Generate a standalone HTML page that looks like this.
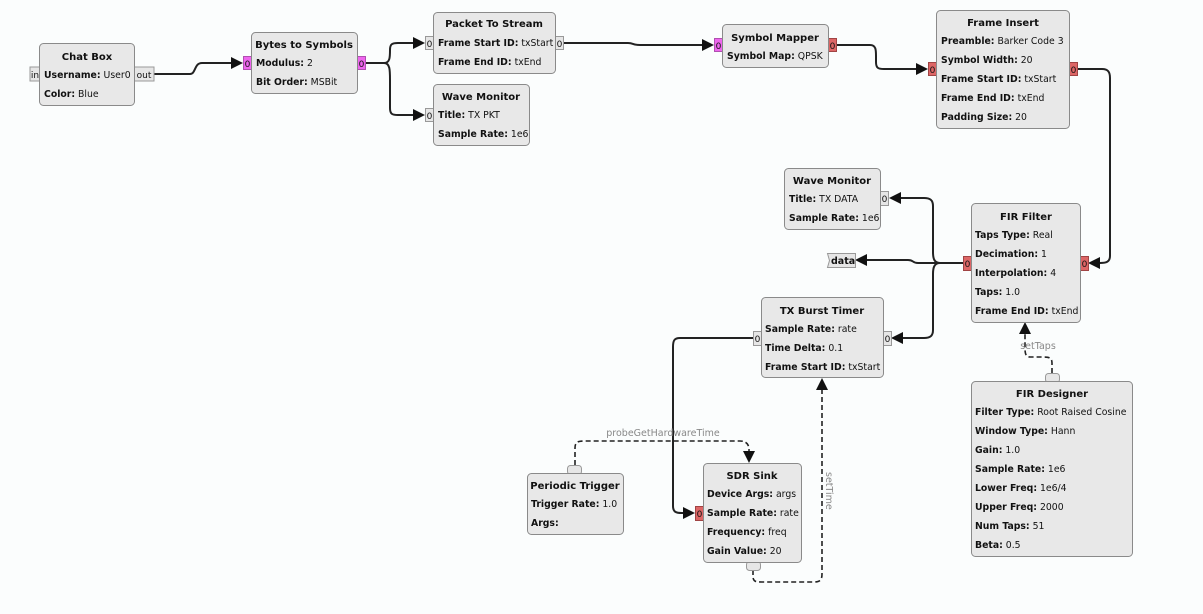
<!DOCTYPE html>
<html><head><meta charset="utf-8"><style>
html,body{margin:0;padding:0;background:#fbfdfd;}
svg{display:block;font-family:"DejaVu Sans","Liberation Sans",sans-serif;}
.b{fill:#e8e8e8;stroke:#8a8a8a;stroke-width:1;}
.t{font-size:10px;font-weight:bold;text-anchor:middle;fill:#111;}
.r{font-size:9.3px;fill:#111;}
.r tspan.k{font-weight:bold;}
.pg{fill:#e6e6e6;stroke:#999;}
.pm{fill:#ee66ee;stroke:#b050b0;}
.pr{fill:#dd6666;stroke:#a04444;}
.pt{font-size:9px;fill:#111;text-anchor:middle;}
.w{fill:none;stroke:#222;stroke-width:2;}
.d{fill:none;stroke:#222;stroke-width:1.6;stroke-dasharray:5,3;}
.lab{font-size:9.5px;fill:#888;}
</style></head><body>
<svg width="1203" height="614" viewBox="0 0 1203 614" xmlns="http://www.w3.org/2000/svg">
<rect width="1203" height="614" fill="#fbfdfd"/>
<path class="w" d="M154,74 H190 C196,74 194,63 202,63 H236"/>
<path class="w" d="M365,63 H384 C390,63 390,57 390,50 C390,44 392,43 398,43 H418"/>
<path class="w" d="M384,63 C390,63 390,70 390,80 V108 C390,114 392,115 398,115 H418"/>
<path class="w" d="M563,43 H628 C634,43 632,45 640,45 H707"/>
<path class="w" d="M836,45 H870 C876,45 876,50 876,56 V62 C876,68 878,69 884,69 H921"/>
<path class="w" d="M1077,69 H1102 C1108,69 1110,72 1110,78 V256 C1110,262 1106,263 1100,263 H1095"/>
<path class="w" d="M963,263 H918 C912,263 914,260 908,260 H866"/>
<path class="w" d="M963,263 H940 C934,263 933,258 933,252 V206 C933,200 930,198 924,198 H900"/>
<path class="w" d="M940,263 C934,263 933,268 933,274 V330 C933,336 930,338 924,338 H902"/>
<path class="w" d="M753,338 H680 C674,338 673,341 673,347 V506 C673,512 676,513 682,513 H688"/>
<path class="d" d="M575,465 V448 C575,442 578,441 584,441 H740 C746,441 749,444 749,450 V452"/>
<path class="d" d="M753,570 V576 C753,582 756,582 762,582 H814 C820,582 822,580 822,574 V390"/>
<path class="d" d="M1052,373 V363 C1052,357 1048,357 1042,357 H1030 C1026,357 1025,354 1025,348 V334"/>
<g fill="#111">
<polygon points="243,63 231,57 231,69"/>
<polygon points="425,43 413,37 413,49"/>
<polygon points="425,115 413,109 413,121"/>
<polygon points="714,45 702,39 702,51"/>
<polygon points="928,69 916,63 916,75"/>
<polygon points="1088,263 1100,257 1100,269"/>
<polygon points="855,260 867,254 867,266"/>
<polygon points="889,198 901,192 901,204"/>
<polygon points="891,338 903,332 903,344"/>
<polygon points="695,513 683,507 683,519"/>
<polygon points="749,463 743,451 755,451"/>
<polygon points="822,378 816,390 828,390"/>
<polygon points="1025,322 1019,334 1031,334"/>
</g>
<text class="lab" x="663" y="436" text-anchor="middle">probeGetHardwareTime</text>
<text class="lab" x="1038" y="349" text-anchor="middle">setTaps</text>
<text class="lab" transform="translate(826,472) rotate(90)">setTime</text>

<rect class="pg" x="30" y="67" width="10" height="14"/><text class="pt" x="35" y="78">in</text>
<rect class="pg" x="134" y="67" width="20" height="14"/><text class="pt" x="144" y="78">out</text>
<rect class="b" x="39.5" y="43.5" width="95" height="62" rx="4"/>
<text class="t" x="87" y="60">Chat Box</text>
<text class="r" x="44" y="78"><tspan class="k">Username:</tspan> User0</text>
<text class="r" x="44" y="97"><tspan class="k">Color:</tspan> Blue</text>

<rect class="pm" x="243.5" y="56.5" width="8" height="13"/><text class="pt" x="247.5" y="67">0</text>
<rect class="pm" x="357.5" y="56.5" width="8" height="13"/><text class="pt" x="361.5" y="67">0</text>
<rect class="b" x="251.5" y="32.5" width="106" height="61" rx="4"/>
<text class="t" x="304" y="48">Bytes to Symbols</text>
<text class="r" x="256" y="66"><tspan class="k">Modulus:</tspan> 2</text>
<text class="r" x="256" y="85"><tspan class="k">Bit Order:</tspan> MSBit</text>

<rect class="pg" x="425.5" y="36.5" width="8" height="13"/><text class="pt" x="429.5" y="47">0</text>
<rect class="pg" x="555.5" y="36.5" width="8" height="13"/><text class="pt" x="559.5" y="47">0</text>
<rect class="b" x="433.5" y="12.5" width="122" height="61" rx="4"/>
<text class="t" x="494" y="27">Packet To Stream</text>
<text class="r" x="438" y="46"><tspan class="k">Frame Start ID:</tspan> txStart</text>
<text class="r" x="438" y="65"><tspan class="k">Frame End ID:</tspan> txEnd</text>

<rect class="pg" x="425.5" y="108.5" width="8" height="13"/><text class="pt" x="429.5" y="119">0</text>
<rect class="b" x="433.5" y="84.5" width="96" height="61" rx="4"/>
<text class="t" x="481" y="100">Wave Monitor</text>
<text class="r" x="438" y="118"><tspan class="k">Title:</tspan> TX PKT</text>
<text class="r" x="438" y="137"><tspan class="k">Sample Rate:</tspan> 1e6</text>

<rect class="pm" x="714.5" y="38.5" width="8" height="13"/><text class="pt" x="718.5" y="49">0</text>
<rect class="pr" x="828.5" y="38.5" width="8" height="13"/><text class="pt" x="832.5" y="49">0</text>
<rect class="b" x="722.5" y="24.5" width="106" height="43" rx="4"/>
<text class="t" x="775" y="41">Symbol Mapper</text>
<text class="r" x="727" y="59"><tspan class="k">Symbol Map:</tspan> QPSK</text>

<rect class="pr" x="928.5" y="62.5" width="8" height="13"/><text class="pt" x="932.5" y="73">0</text>
<rect class="pr" x="1069.5" y="62.5" width="8" height="13"/><text class="pt" x="1073.5" y="73">0</text>
<rect class="b" x="936.5" y="10.5" width="133" height="118" rx="4"/>
<text class="t" x="1003" y="26">Frame Insert</text>
<text class="r" x="941" y="44"><tspan class="k">Preamble:</tspan> Barker Code 3</text>
<text class="r" x="941" y="63"><tspan class="k">Symbol Width:</tspan> 20</text>
<text class="r" x="941" y="82"><tspan class="k">Frame Start ID:</tspan> txStart</text>
<text class="r" x="941" y="101"><tspan class="k">Frame End ID:</tspan> txEnd</text>
<text class="r" x="941" y="120"><tspan class="k">Padding Size:</tspan> 20</text>

<rect class="pg" x="880.5" y="191.5" width="8" height="14"/><text class="pt" x="884.5" y="202">0</text>
<rect class="b" x="784.5" y="168.5" width="96" height="61" rx="4"/>
<text class="t" x="832" y="184">Wave Monitor</text>
<text class="r" x="789" y="202"><tspan class="k">Title:</tspan> TX DATA</text>
<text class="r" x="789" y="221"><tspan class="k">Sample Rate:</tspan> 1e6</text>

<polygon points="827.5,253.5 855.5,253.5 855.5,267.5 827.5,267.5 829.5,260.5" fill="#e6e6e6" stroke="#999"/>
<text x="831" y="264" style="font-size:9.5px;font-weight:bold;fill:#111">data</text>

<rect class="pr" x="963.5" y="256.5" width="8" height="14"/><text class="pt" x="967.5" y="267">0</text>
<rect class="pr" x="1080.5" y="256.5" width="8" height="14"/><text class="pt" x="1084.5" y="267">0</text>
<rect class="b" x="971.5" y="203.5" width="109" height="119" rx="4"/>
<text class="t" x="1026" y="220">FIR Filter</text>
<text class="r" x="975" y="238"><tspan class="k">Taps Type:</tspan> Real</text>
<text class="r" x="975" y="257"><tspan class="k">Decimation:</tspan> 1</text>
<text class="r" x="975" y="276"><tspan class="k">Interpolation:</tspan> 4</text>
<text class="r" x="975" y="295"><tspan class="k">Taps:</tspan> 1.0</text>
<text class="r" x="975" y="314"><tspan class="k">Frame End ID:</tspan> txEnd</text>

<rect class="pg" x="753.5" y="331.5" width="8" height="14"/><text class="pt" x="757.5" y="342">0</text>
<rect class="pg" x="883.5" y="331.5" width="8" height="14"/><text class="pt" x="887.5" y="342">0</text>
<rect class="b" x="761.5" y="297.5" width="122" height="80" rx="4"/>
<text class="t" x="822" y="314">TX Burst Timer</text>
<text class="r" x="765" y="332"><tspan class="k">Sample Rate:</tspan> rate</text>
<text class="r" x="765" y="351"><tspan class="k">Time Delta:</tspan> 0.1</text>
<text class="r" x="765" y="370"><tspan class="k">Frame Start ID:</tspan> txStart</text>

<rect class="pg" x="1045.5" y="373.5" width="14" height="9" rx="3"/>
<rect class="b" x="971.5" y="381.5" width="161" height="175" rx="4"/>
<text class="t" x="1052" y="397">FIR Designer</text>
<text class="r" x="975" y="415"><tspan class="k">Filter Type:</tspan> Root Raised Cosine</text>
<text class="r" x="975" y="434"><tspan class="k">Window Type:</tspan> Hann</text>
<text class="r" x="975" y="453"><tspan class="k">Gain:</tspan> 1.0</text>
<text class="r" x="975" y="472"><tspan class="k">Sample Rate:</tspan> 1e6</text>
<text class="r" x="975" y="491"><tspan class="k">Lower Freq:</tspan> 1e6/4</text>
<text class="r" x="975" y="510"><tspan class="k">Upper Freq:</tspan> 2000</text>
<text class="r" x="975" y="529"><tspan class="k">Num Taps:</tspan> 51</text>
<text class="r" x="975" y="548"><tspan class="k">Beta:</tspan> 0.5</text>

<rect class="pg" x="567.5" y="465.5" width="14" height="9" rx="3"/>
<rect class="b" x="527.5" y="473.5" width="96" height="61" rx="4"/>
<text class="t" x="575" y="489">Periodic Trigger</text>
<text class="r" x="531" y="507"><tspan class="k">Trigger Rate:</tspan> 1.0</text>
<text class="r" x="531" y="526"><tspan class="k">Args:</tspan></text>

<rect class="pr" x="695.5" y="506.5" width="8" height="14"/><text class="pt" x="699.5" y="517">0</text>
<rect class="pg" x="746.5" y="561.5" width="14" height="9" rx="3"/>
<rect class="b" x="703.5" y="463.5" width="98" height="99" rx="4"/>
<text class="t" x="752" y="479">SDR Sink</text>
<text class="r" x="707" y="497"><tspan class="k">Device Args:</tspan> args</text>
<text class="r" x="707" y="516"><tspan class="k">Sample Rate:</tspan> rate</text>
<text class="r" x="707" y="535"><tspan class="k">Frequency:</tspan> freq</text>
<text class="r" x="707" y="554"><tspan class="k">Gain Value:</tspan> 20</text>
</svg>
</body></html>
